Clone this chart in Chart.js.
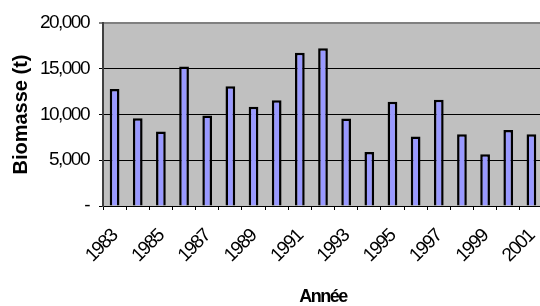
<!DOCTYPE html>
<html>
<head>
<meta charset="utf-8">
<script src="https://cdn.jsdelivr.net/npm/chart.js@4/dist/chart.umd.min.js"></script>
<style>
  html, body { margin: 0; padding: 0; background: #fff; overflow: hidden; width: 540px; height: 306px; }
  #wrap { width: 550px; height: 306px; }
</style>
</head>
<body>
<div id="wrap"><canvas id="biomasseChart" width="550" height="306"></canvas></div>
<script>
// Data
const years = ['1983', '1984', '1985', '1986', '1987', '1988', '1989', '1990', '1991', '1992',
  '1993', '1994', '1995', '1996', '1997', '1998', '1999', '2000', '2001'];
const biomasse = [12800, 9600, 8150, 15250, 9900, 13100, 10850, 11550, 16750, 17250,
  9550, 5900, 11400, 7600, 11600, 7850, 5650, 8300, 7850];
const yTicks = [0, 5000, 10000, 15000, 20000];

const FONT = "'Liberation Sans', Arial, sans-serif";
const TIGHT = '-1.5px';

// Grey plot background + tight (condensed-looking) text
const plotBackground = {
  id: 'plotBackground',
  beforeDraw(chart) {
    const { ctx, chartArea: a } = chart;
    ctx.letterSpacing = TIGHT;
    ctx.save();
    ctx.fillStyle = '#C0C0C0';
    ctx.fillRect(a.left, a.top, a.right - a.left, a.bottom - a.top);
    ctx.restore();
    // the axis title on the left is not squeezed in the original
    const y = chart.scales.y;
    if (!y._wrapped) {
      const orig = y.drawTitle;
      y.drawTitle = function () {
        ctx.letterSpacing = '0px';
        orig.call(this);
        ctx.letterSpacing = TIGHT;
      };
      y._wrapped = true;
    }
  }
};

function initChart() {
  const canvas = document.getElementById('biomasseChart');
  const ctx = canvas.getContext('2d');
  ctx.letterSpacing = TIGHT;
  new Chart(ctx, {
    type: 'bar',
    data: {
      labels: years,
      datasets: [{
        label: 'Biomasse (t)',
        data: biomasse,
        backgroundColor: '#9999FF',
        borderColor: '#000000',
        borderWidth: 2.5,
        barPercentage: 0.42,
        categoryPercentage: 1
      }]
    },
    options: {
      responsive: false,
      animation: false,
      layout: { padding: { left: 0, right: 7, top: 23, bottom: 0 } },
      plugins: {
        legend: { display: false },
        tooltip: { enabled: false }
      },
      scales: {
        x: {
          afterFit(scale) {
            scale.height = 100;
            scale.paddingLeft = 0;
            scale.paddingRight = 0;
          },
          grid: {
            drawOnChartArea: false,
            drawTicks: true,
            tickLength: 4,
            color: '#000000'
          },
          border: { color: '#000000', width: 1 },
          ticks: {
            autoSkip: false,
            minRotation: 45,
            maxRotation: 45,
            padding: 15,
            color: '#000000',
            font: { family: FONT, size: 19 },
            callback: (val, i) => (i % 2 === 0 ? years[i] : '')
          },
          title: {
            display: true,
            text: 'Année',
            color: '#000000',
            font: { family: FONT, size: 18, weight: 'bold', lineHeight: 1 },
            padding: { top: 0, bottom: 0 }
          }
        },
        y: {
          min: 0,
          max: 20000,
          afterFit(scale) { scale.width = 103; },
          afterBuildTicks(scale) { scale.ticks = yTicks.map(v => ({ value: v })); },
          grid: {
            color: c => (c.tick && c.tick.value === 20000 ? '#808080' : '#000000'),
            lineWidth: c => (c.tick && c.tick.value === 20000 ? 2 : 1),
            tickLength: 4
          },
          border: { color: '#404040', width: 2 },
          ticks: {
            padding: 10,
            color: '#000000',
            font: { family: FONT, size: 19 },
            callback: v => (v === 0 ? '-' : v.toLocaleString('en-US'))
          },
          title: {
            display: true,
            text: 'Biomasse (t)',
            color: '#000000',
            font: { family: FONT, size: 20, weight: 'bold' },
            padding: { top: 9, bottom: 0 }
          }
        }
      }
    },
    plugins: [plotBackground]
  });
}

document.addEventListener('DOMContentLoaded', initChart);
</script>
</body>
</html>
